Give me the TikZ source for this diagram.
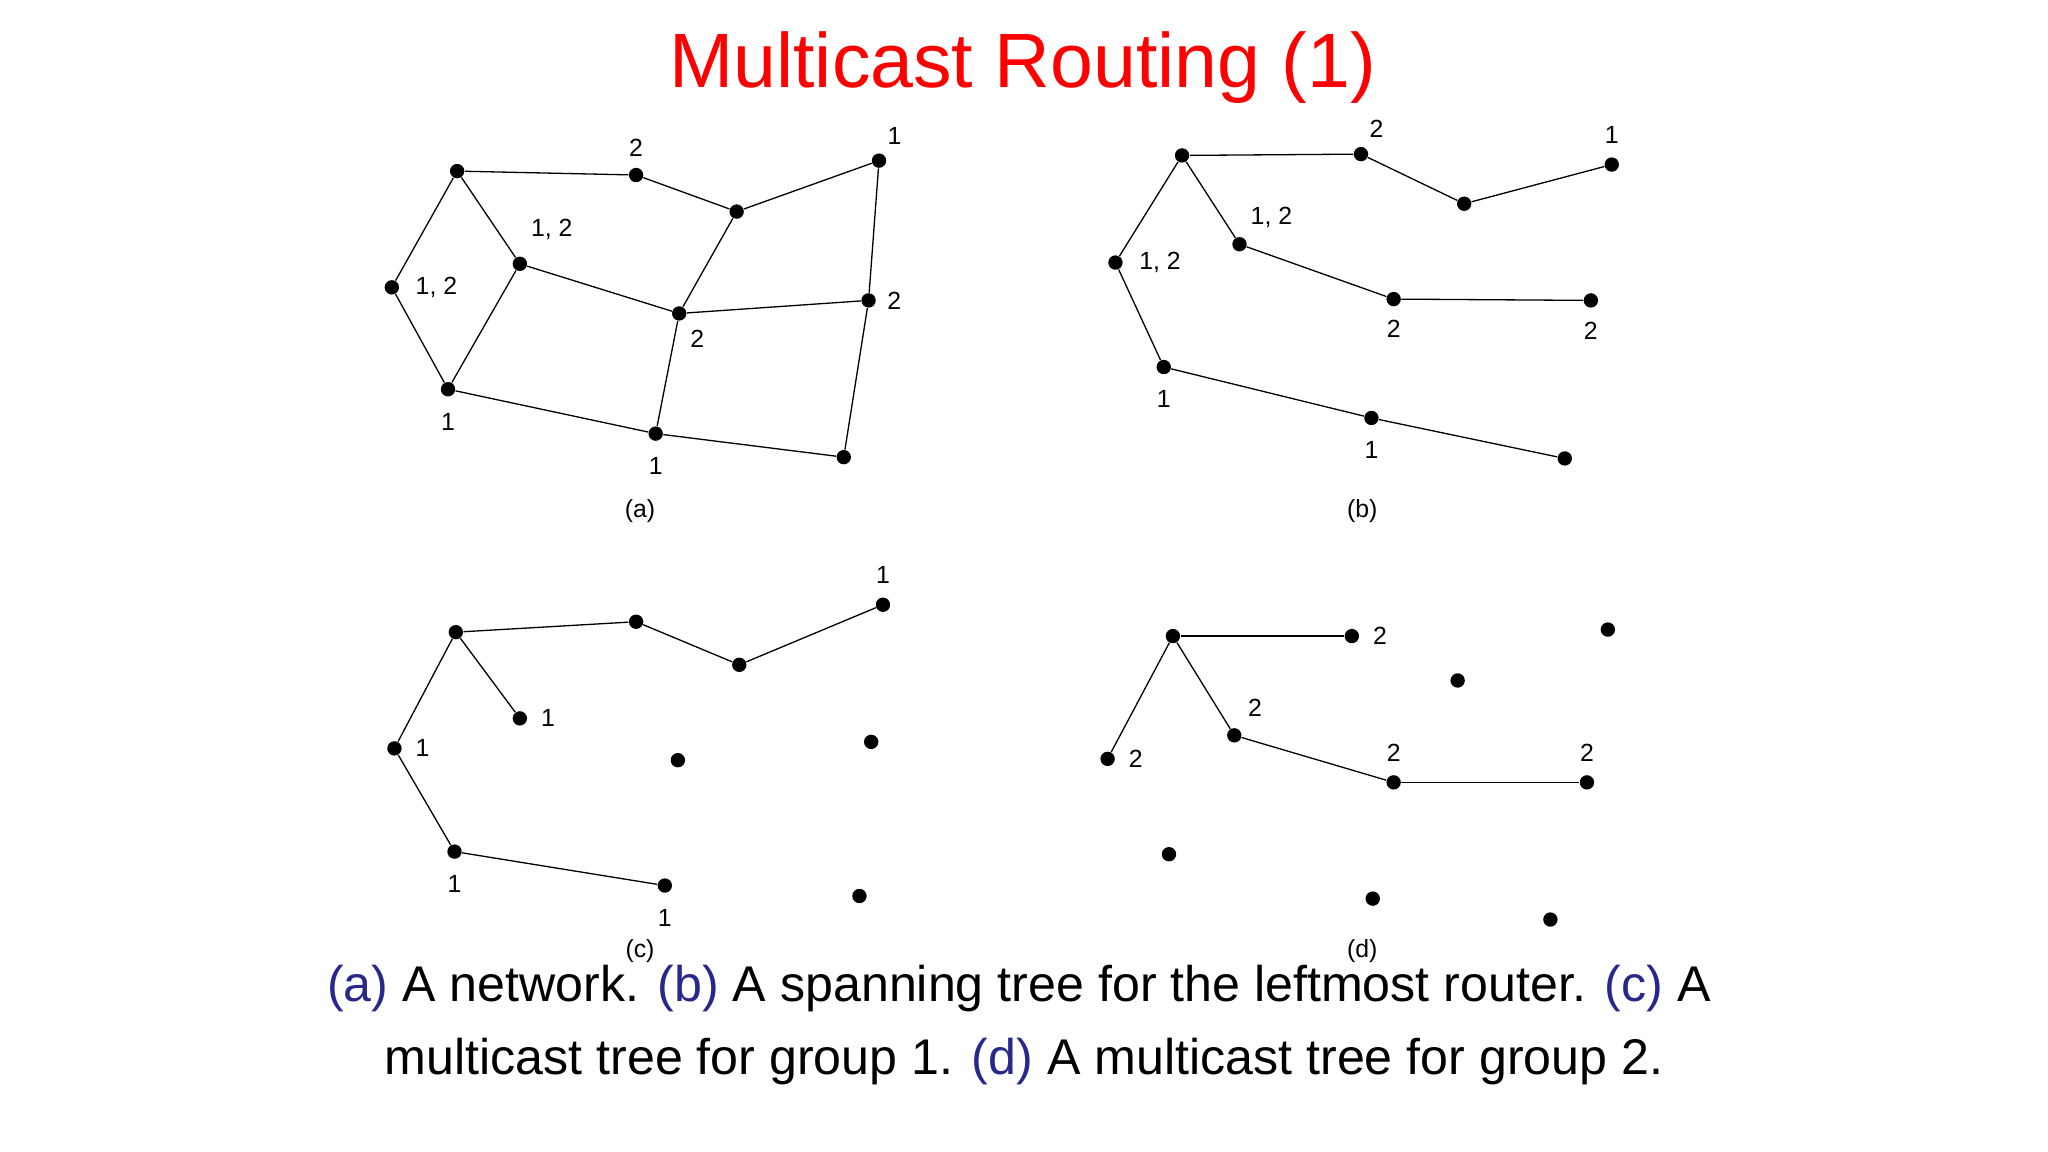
\documentclass[tikz,border=0pt]{standalone}
\usepackage{fontspec}
\setmainfont{Liberation Sans}
\usetikzlibrary{positioning}
\definecolor{capblue}{RGB}{40,40,140}
\begin{document}
\begin{tikzpicture}[x=0.5pt,y=-0.5pt,
  dot/.style={circle,fill=black,inner sep=0pt,minimum size=5.5pt},
  lab/.style={font=\fontsize{9.5}{12}\selectfont,inner sep=1pt},
  sub/.style={font=\fontsize{9.5}{12}\selectfont},
  edge/.style={line width=0.5pt}]
\useasboundingbox (0,0) rectangle (1568,882);
\node[text=red,font=\fontsize{29.5}{36}\selectfont] (title) at (783,52) {Multicast Routing (1)};
% (a)
\foreach \n/\x/\y in {1/350/131,2/487/134,3/564/162,4/673/123,5/300/220,6/398/202,7/520/240,8/665/230,9/343/298,10/502/332,11/646/350}
  \node[dot] (a\n) at (\x,\y) {};
\foreach \u/\v in {1/2,2/3,3/4,1/5,1/6,5/9,6/9,6/7,3/7,7/8,4/8,9/10,7/10,10/11,8/11}
  \draw[edge] (a\u) -- (a\v);
\node[lab,above=3pt of a2] {2};
\node[lab,above right=3pt and 0pt of a4] {1};
\node[lab,right=5pt of a5] {1, 2};
\node[lab,above right=6pt and 1pt of a6] {1, 2};
\node[lab,below right=3pt and 1pt of a7] {2};
\node[lab,right=3pt of a8] {2};
\node[lab,below=5pt of a9] {1};
\node[lab,below=5pt of a10] {1};
\node[sub] (la) at (490,391) {(a)};
% (b)
\foreach \n/\x/\y in {1/905/119,2/1042/118,3/1121/156,4/1234/126,5/854/201,6/949/187,7/1067/229,8/1218/230,9/891/281,10/1050/320,11/1198/351}
  \node[dot] (b\n) at (\x,\y) {};
\foreach \u/\v in {1/2,2/3,3/4,1/5,1/6,6/7,7/8,5/9,9/10,10/11}
  \draw[edge] (b\u) -- (b\v);
\node[lab,above right=3pt and 0pt of b2] {2};
\node[lab,above=4pt of b4] {1};
\node[lab,right=5pt of b5] {1, 2};
\node[lab,above right=3pt and 1pt of b6] {1, 2};
\node[lab,below=4pt of b7] {2};
\node[lab,below=4pt of b8] {2};
\node[lab,below=5pt of b9] {1};
\node[lab,below=5pt of b10] {1};
\node[sub] (lb) at (1043,391) {(b)};
% (c)
\foreach \n/\x/\y in {1/349/484,2/487/476,3/566/509,4/676/463,5/302/573,6/398/550,7/519/582,8/667/568,9/348/652,10/509/678,11/658/686}
  \node[dot] (c\n) at (\x,\y) {};
\foreach \u/\v in {1/2,2/3,3/4,1/5,1/6,5/9,9/10}
  \draw[edge] (c\u) -- (c\v);
\node[lab,above=4pt of c4] {1};
\node[lab,right=4pt of c5] {1};
\node[lab,right=4pt of c6] {1};
\node[lab,below=5pt of c9] {1};
\node[lab,below=5pt of c10] {1};
\node[sub] (lc) at (490,728) {(c)};
% (d)
\foreach \n/\x/\y in {1/898/487,2/1035/487,3/1116/521,4/1231/482,5/848/581,6/945/563,7/1067/599,8/1215/599,9/895/654,10/1051/688,11/1187/704}
  \node[dot] (d\n) at (\x,\y) {};
\foreach \u/\v in {1/2,1/5,1/6,6/7,7/8}
  \draw[edge] (d\u) -- (d\v);
\node[lab,right=4pt of d2] {2};
\node[lab,right=4pt of d5] {2};
\node[lab,above right=4pt and 2pt of d6] {2};
\node[lab,above=4pt of d7] {2};
\node[lab,above=4pt of d8] {2};
\node[sub] (ld) at (1043,728) {(d)};
% caption
\node[font=\fontsize{19.2}{24}\selectfont] (cap1) at (780,757) {\textcolor{capblue}{(a)} A network. \textcolor{capblue}{(b)} A spanning tree for the leftmost router. \textcolor{capblue}{(c)} A};
\node[font=\fontsize{19.2}{24}\selectfont] (cap2) at (784,813) {multicast tree for group 1. \textcolor{capblue}{(d)} A multicast tree for group 2.};
\end{tikzpicture}
\end{document}
